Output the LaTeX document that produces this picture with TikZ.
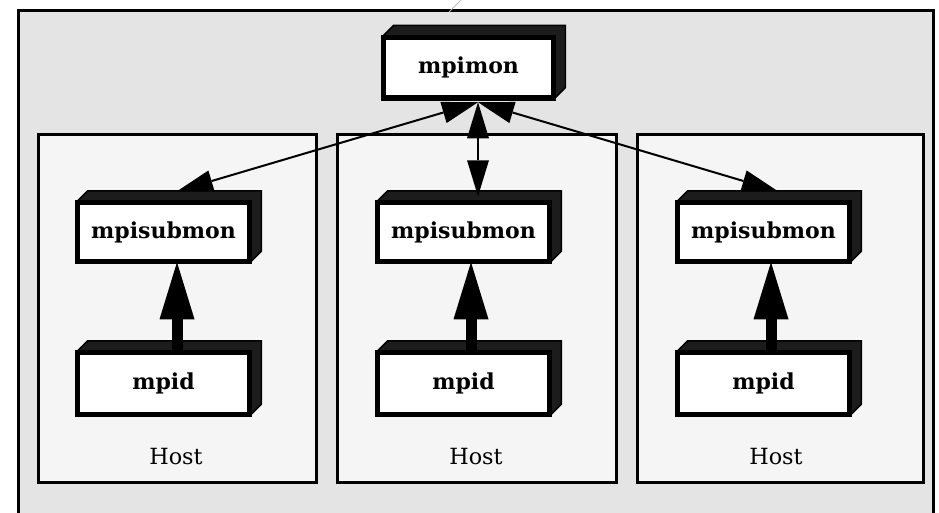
\documentclass[tikz,border=0pt]{standalone}
\usepackage{fontspec}
\setmainfont{DejaVu Serif}
\usetikzlibrary{arrows.meta}
\definecolor{panelgray}{HTML}{E4E4E4}
\definecolor{hostgray}{HTML}{F5F5F5}
\definecolor{shade}{HTML}{1C1C1C}
\tikzset{
  box/.style={draw=black, line width=3.5pt, fill=white, minimum width=170pt,
    minimum height=57pt, inner sep=0pt,
    font=\fontsize{22}{26}\selectfont\bfseries},
  host/.style={draw=black, line width=3pt, fill=hostgray},
  hostlabel/.style={inner sep=0pt, font=\fontsize{22.3}{26}\selectfont},
  link/.style={line width=2pt,
    {Triangle[length=36pt,width=22pt,line width=0pt]}-{Triangle[length=36pt,width=22pt,line width=0pt]}},
  feed/.style={line width=11pt,
    -{Triangle[length=57pt,width=35pt,line width=0pt]}}
}
% top and right faces of a raised block, then its front outline again
\newcommand\extrude[1]{%
  \filldraw[fill=shade, draw=black, line width=1.5pt, line join=miter]
    (#1.north west) -- ++(11pt,11pt) -| ([shift={(11pt,11pt)}]#1.south east)
    -- (#1.south east) -- (#1.north east) -- cycle;
  \draw[line width=3.5pt] (#1.north west) rectangle (#1.south east);
}
\begin{document}
\begin{tikzpicture}[x=1pt,y=-1pt]
\useasboundingbox (0,0) rectangle (939,512);
\clip (0,0) rectangle (939,512);

% outer panel
\draw[line width=3pt, fill=panelgray] (18,10) rectangle (933,560);
\draw[gray!55, line width=0.8pt] (449,12) -- (461,0);

% host frames
\draw[host] (38,134) rectangle (316,482);
\draw[host] (337,134) rectangle (616,482);
\draw[host] (637,134) rectangle (923,482);

% blocks
\node[box, minimum width=168pt, minimum height=59pt] (mon) at (468.5,67.5) {mpimon};
\extrude{mon}

\node[box] (sub1) at (163.5,232) {mpisubmon};
\extrude{sub1}
\node[box] (sub2) at (463.5,232) {mpisubmon};
\extrude{sub2}
\node[box] (sub3) at (763.5,232) {mpisubmon};
\extrude{sub3}

\node[box, minimum height=60pt] (pid1) at (163.5,383.5) {mpid};
\extrude{pid1}
\node[box, minimum height=60pt] (pid2) at (463.5,383.5) {mpid};
\extrude{pid2}
\node[box, minimum height=60pt] (pid3) at (763.5,383.5) {mpid};
\extrude{pid3}

% host captions
\node[hostlabel] (h1) at (176,457) {Host};
\node[hostlabel] (h2) at (476,457) {Host};
\node[hostlabel] (h3) at (776,457) {Host};

% monitor links
\draw[link] ([xshift=9.5pt,yshift=-3.5pt]mon.south) -- ([xshift=13.5pt,yshift=10.5pt]sub1.north);
\draw[link] ([xshift=9.5pt,yshift=-3.5pt]mon.south) -- ([xshift=14.5pt,yshift=5.5pt]sub2.north);
\draw[link] ([xshift=9.5pt,yshift=-3.5pt]mon.south) -- ([xshift=14.5pt,yshift=10.5pt]sub3.north);

% daemon to submonitor
\draw[feed] ([xshift=13.5pt]pid1.north) -- ([xshift=13.5pt]sub1.south);
\draw[feed] ([xshift=7.5pt]pid2.north) -- ([xshift=7.5pt]sub2.south);
\draw[feed] ([xshift=7.5pt]pid3.north) -- ([xshift=7.5pt]sub3.south);
\end{tikzpicture}
\end{document}
